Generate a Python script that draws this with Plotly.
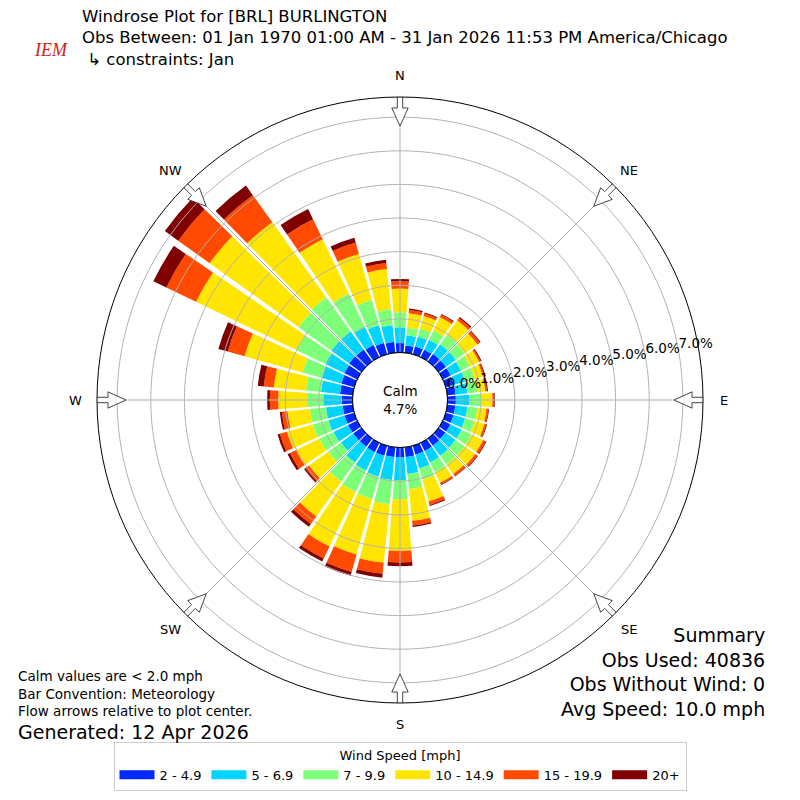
import numpy as np
import plotly.graph_objects as go

# wind directions (deg, meteorological) and speed classes
directions = list(range(0, 360, 10))
speed_labels = ['2 - 4.9', '5 - 6.9', '7 - 9.9', '10 - 14.9', '15 - 19.9', '20+']
colors = ['#0028ff', '#00d4ff', '#7dff7a', '#ffe600', '#ff4a00', '#800000']

# frequency (%) per direction for each speed class
spd_2_5 = [.28, .22, .24, .25, .27, .27, .26, .25, .25, .25, .24, .24,
           .25, .25, .26, .27, .28, .29, .29, .29, .31, .31, .30, .30,
           .30, .30, .30, .32, .38, .40, .42, .45, .44, .40, .35, .32]
spd_5_7 = [.47, .30, .31, .33, .36, .36, .34, .35, .35, .41, .36, .36,
           .37, .37, .37, .38, .42, .51, .68, .69, .64, .61, .58, .45,
           .48, .50, .50, .55, .57, .60, .63, .65, .66, .60, .55, .50]
spd_7_10 = [.45, .23, .25, .30, .35, .33, .30, .30, .30, .36, .30, .30,
            .33, .33, .32, .32, .35, .45, .57, .72, .70, .71, .70, .47,
            .47, .48, .48, .49, .45, .60, .95, 1.20, 1.25, 1.10, .78, .48]
spd_10_15 = [.70, .43, .38, .44, .52, .46, .30, .25, .24, .32, .27, .30,
             .38, .39, .35, .35, .67, .95, 1.54, 1.75, 1.71, 1.79, 1.27, .70,
             .77, .80, .67, .85, .96, 1.79, 3.32, 3.26, 2.75, 1.79, 1.42, 1.20]
spd_15_20 = [.22, .10, .08, .08, .09, .09, .05, .05, .05, .05, .06, .06,
             .08, .08, .07, .06, .11, .14, .34, .33, .54, .40, .28, .13,
             .20, .22, .17, .25, .30, .52, .98, 1.15, .99, .66, .35, .18]
spd_20p = [.07, .04, .03, .03, .04, .03, .03, .03, .03, .02, .02, .02,
           .03, .02, .02, .02, .03, .04, .11, .12, .12, .10, .10, .05,
           .08, .07, .06, .08, .18, .29, .43, .49, .35, .34, .15, .10]

calm_pct = 4.7
ring_vals = [0, 1, 2, 3, 4, 5, 6, 7]
compass_angles = [0, 45, 90, 135, 180, 225, 270, 315]
compass_labels = ['N', 'NE', 'E', 'SE', 'S', 'SW', 'W', 'NW']

series = [spd_2_5, spd_5_7, spd_7_10, spd_10_15, spd_15_20, spd_20p]

FONT = 'DejaVu Sans'
rmax = 7.6
radius_px = 303.0
hole_px = 47.5
px_per_unit = (radius_px - hole_px) / rmax

fig = go.Figure()

for vals, lab, col in zip(series, speed_labels, colors):
    fig.add_trace(go.Barpolar(
        r=vals, theta=directions, width=8.6, name=lab,
        marker=dict(color=col, line=dict(width=0)),
        showlegend=False,
    ))

# grid drawn over the bars, like the original
circ = np.linspace(0, 360, 361)
for rv in ring_vals[1:]:
    fig.add_trace(go.Scatterpolar(r=[rv] * len(circ), theta=circ, mode='lines',
                                  line=dict(color='#b0b0b0', width=1),
                                  showlegend=False, hoverinfo='skip'))
for a in compass_angles:
    fig.add_trace(go.Scatterpolar(r=[0, rmax], theta=[a, a], mode='lines',
                                  line=dict(color='#b0b0b0', width=1),
                                  showlegend=False, hoverinfo='skip'))
fig.add_trace(go.Scatterpolar(r=[0] * len(circ), theta=circ, mode='lines',
                              line=dict(color='black', width=1),
                              showlegend=False, hoverinfo='skip'))

# flow arrows on the rim (pixel offsets from the centre, along / across the spoke)
arrow_s = np.array([306, 306, 292, 292, 274, 292, 292, 306])
arrow_t = np.array([-2.7, 2.7, 2.7, 8.2, 0, -8.2, -2.7, -2.7])
for a in compass_angles:
    rp = np.hypot(arrow_s, arrow_t)
    ang = a + np.degrees(np.arctan2(arrow_t, arrow_s))
    fig.add_trace(go.Scatterpolar(r=(rp - hole_px) / px_per_unit, theta=ang,
                                  mode='lines', fill='toself', fillcolor='white',
                                  line=dict(color='#444444', width=1),
                                  cliponaxis=False, showlegend=False, hoverinfo='skip'))

# ring labels
fig.add_trace(go.Scatterpolar(r=ring_vals, theta=[80] * len(ring_vals), mode='text',
                              text=[f'{v:.1f}%' for v in ring_vals], textposition='top right',
                              cliponaxis=False,
                              textfont=dict(family=FONT, size=13.5, color='black'),
                              showlegend=False, hoverinfo='skip'))

# legend entries
for lab, col in zip(speed_labels, colors):
    fig.add_trace(go.Scatterpolar(r=[None], theta=[None], mode='lines', name=lab,
                                  line=dict(color=col, width=9)))

fig.update_layout(
    width=800, height=800,
    margin=dict(l=0, r=0, t=0, b=0),
    paper_bgcolor='white',
    font=dict(family=FONT, color='black'),
    polar=dict(
        domain=dict(x=[97 / 800, 703 / 800], y=[97 / 800, 703 / 800]),
        bgcolor='white',
        hole=hole_px / radius_px,
        barmode='stack',
        radialaxis=dict(range=[0, rmax], showgrid=False, showticklabels=False,
                        showline=False, ticks=''),
        angularaxis=dict(rotation=90, direction='clockwise', showgrid=False,
                         showticklabels=False, ticks='', showline=True,
                         linecolor='black', linewidth=1),
    ),
    legend=dict(orientation='h', x=0.5, xanchor='center', y=1 - 742 / 800, yanchor='top',
                title=dict(text='Wind Speed [mph]', side='top center', font=dict(size=13)),
                font=dict(family=FONT, size=13), bordercolor='#cccccc', borderwidth=1,
                itemwidth=35),
)

# compass labels just outside the rim
for a, lab in zip(compass_angles, compass_labels):
    fig.add_annotation(x=0.5 + 324 / 800 * np.sin(np.radians(a)),
                       y=0.5 + 324 / 800 * np.cos(np.radians(a)),
                       xref='paper', yref='paper', text=lab, showarrow=False,
                       xanchor='center', yanchor='middle', font=dict(family=FONT, size=13))

title_lines = ['Windrose Plot for [BRL] BURLINGTON',
               'Obs Between: 01 Jan 1970 01:00 AM - 31 Jan 2026 11:53 PM America/Chicago',
               ' ↳ constraints: Jan']
fig.add_annotation(x=80 / 800, y=1 - 38 / 800, xref='paper', yref='paper',
                   text='<br>'.join(title_lines), showarrow=False, xanchor='left',
                   yanchor='middle', align='left', font=dict(family=FONT, size=16.5))

fig.add_annotation(x=32 / 800, y=1 - 38 / 800, xref='paper', yref='paper', text='<i>IEM</i>',
                   showarrow=False, font=dict(family='Liberation Serif', size=18, color='#cc2222'))

fig.add_annotation(x=0.5, y=0.5, xref='paper', yref='paper',
                   text=f'Calm<br>{calm_pct:.1f}%', showarrow=False,
                   font=dict(family=FONT, size=13.5))

notes = ['Calm values are < 2.0 mph', 'Bar Convention: Meteorology',
         'Flow arrows relative to plot center.']
fig.add_annotation(x=16 / 800, y=1 - 693 / 800, xref='paper', yref='paper',
                   text='<br>'.join(notes), showarrow=False, xanchor='left',
                   yanchor='middle', align='left', font=dict(family=FONT, size=13.5))
fig.add_annotation(x=16 / 800, y=1 - 732 / 800, xref='paper', yref='paper',
                   text='Generated: 12 Apr 2026', showarrow=False, xanchor='left',
                   yanchor='middle', font=dict(family=FONT, size=19))

summary = ['Summary', 'Obs Used: 40836', 'Obs Without Wind: 0', 'Avg Speed: 10.0 mph']
fig.add_annotation(x=767 / 800, y=1 - 672 / 800, xref='paper', yref='paper',
                   text='<br>'.join(summary), showarrow=False, xanchor='right',
                   yanchor='middle', align='right', font=dict(family=FONT, size=19))

fig.write_html('out.html', config={'displayModeBar': False},
               post_script="document.body.style.margin='0';")
